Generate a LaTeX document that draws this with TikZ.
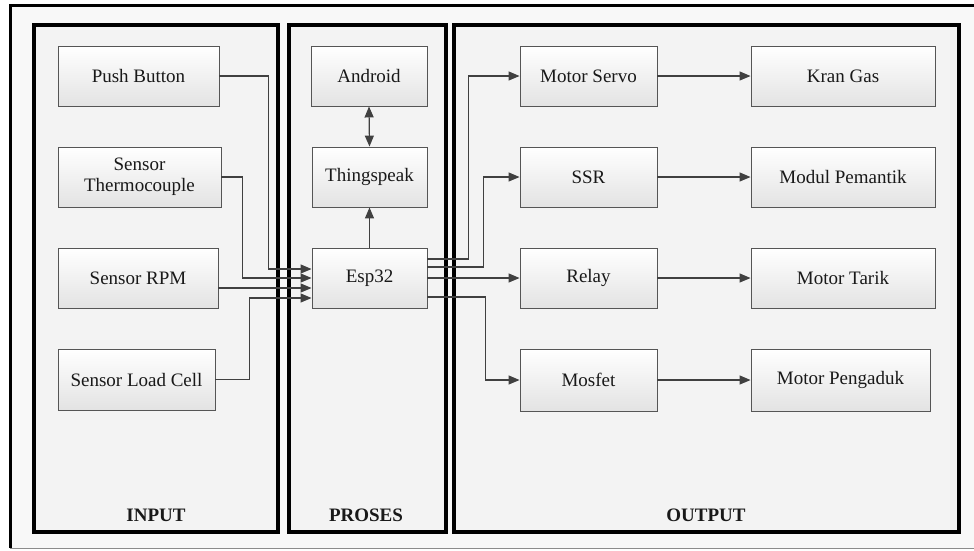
\documentclass[tikz,border=0pt]{standalone}
\usepackage{fontspec}
\setmainfont{Liberation Serif}
\usetikzlibrary{arrows.meta,shadows}
\definecolor{linegray}{HTML}{404040}
\definecolor{boxborder}{HTML}{555555}
\definecolor{panelfill}{HTML}{F3F3F3}
\definecolor{outerfill}{HTML}{F8F8F8}
\tikzset{
  blk/.style={draw=boxborder, line width=0.9pt, top color=white, bottom color=black!11,
    minimum height=60pt, inner sep=2pt, align=center, text=black!90,
    font=\fontsize{19}{21}\selectfont},
  panel/.style={draw=black, line width=4pt, fill=panelfill,
    drop shadow={shadow xshift=1.8pt, shadow yshift=-1.8pt, fill=black!45, opacity=0.6}},
  plabel/.style={font=\fontsize{19}{21}\selectfont\bfseries, text=black!90},
  tip/.tip={Triangle[length=11pt,width=9pt]},
  arr/.style={draw=linegray, line width=1.2pt, -tip},
  arrboth/.style={draw=linegray, line width=1.2pt, tip-tip},
}
\begin{document}
\begin{tikzpicture}[x=1pt,y=-1pt]
\useasboundingbox (0,0) rectangle (974,550);
% outer frame
\fill[outerfill] (10,5) rectangle (974,548);
\draw[line width=3pt, black] (974,5) -- (10,5) -- (10,548);
\draw[line width=1pt, black!45] (10,548) -- (974,548);

% panels
\node[panel, minimum width=244pt, minimum height=507pt] (pin) at (156,278.5) {};
\node[panel, minimum width=157pt, minimum height=507pt] (ppr) at (367.5,278.5) {};
\node[panel, minimum width=505pt, minimum height=507pt] (pout) at (706.5,278.5) {};
\node[plabel] (lin) at (156,515) {INPUT};
\node[plabel] (lpr) at (366,515) {PROSES};
\node[plabel] (lout) at (706,515) {OUTPUT};

% input blocks
\node[blk, minimum width=161pt] (pb) at (138.5,76) {Push Button};
\node[blk, minimum width=163pt] (tc) at (139.5,177) {Sensor\\Thermocouple};
\node[blk, minimum width=160pt] (rpm) at (138,278) {Sensor RPM};
\node[blk, minimum width=157pt, minimum height=61pt] (lc) at (136.5,379.5) {Sensor Load Cell};

% process blocks
\node[blk, minimum width=116pt] (and) at (369,76) {Android};
\node[blk, minimum width=115pt] (ts) at (369.5,177) {Thingspeak};
\node[blk, minimum width=115pt] (esp) at (369.5,278) {Esp32};

% output blocks
\node[blk, minimum width=137pt] (servo) at (588.5,76) {Motor Servo};
\node[blk, minimum width=184pt] (kran) at (843,76) {Kran Gas};
\node[blk, minimum width=137pt] (ssr) at (588.5,177) {SSR};
\node[blk, minimum width=184pt] (modul) at (843,177) {Modul Pemantik};
\node[blk, minimum width=137pt] (relay) at (588.5,278) {Relay};
\node[blk, minimum width=184pt] (tarik) at (843,278) {Motor Tarik};
\node[blk, minimum width=137pt, minimum height=62pt] (mosfet) at (588.5,380) {Mosfet};
\node[blk, minimum width=179pt, minimum height=62pt] (aduk) at (840.5,380) {Motor Pengaduk};

% input connectors
\draw[arr] (pb.east) -- ++(49,0) |- ([yshift=9pt]esp.west);
\draw[arr] (tc.east) -- ++(21,0) |- (esp.west);
\draw[arr] ([yshift=-10pt]rpm.east) -- ([yshift=-10pt]esp.west);
\draw[arr] (lc.east) -- ++(34,0) |- ([yshift=-20pt]esp.west);

% process connectors
\draw[arr] (esp.north) -- (ts.south);
\draw[arrboth] (ts.north) -- (and.south);

% output connectors
\draw[arr] ([yshift=19pt]esp.east) -- ++(41,0) |- (servo.west);
\draw[arr] ([yshift=11pt]esp.east) -- ++(56,0) |- (ssr.west);
\draw[arr] (esp.east) -- (relay.west);
\draw[arr] ([yshift=-19pt]esp.east) -- ++(58,0) |- (mosfet.west);

\draw[arr] (servo.east) -- (kran.west);
\draw[arr] (ssr.east) -- (modul.west);
\draw[arr] (relay.east) -- (tarik.west);
\draw[arr] (mosfet.east) -- (aduk.west);
\end{tikzpicture}
\end{document}
